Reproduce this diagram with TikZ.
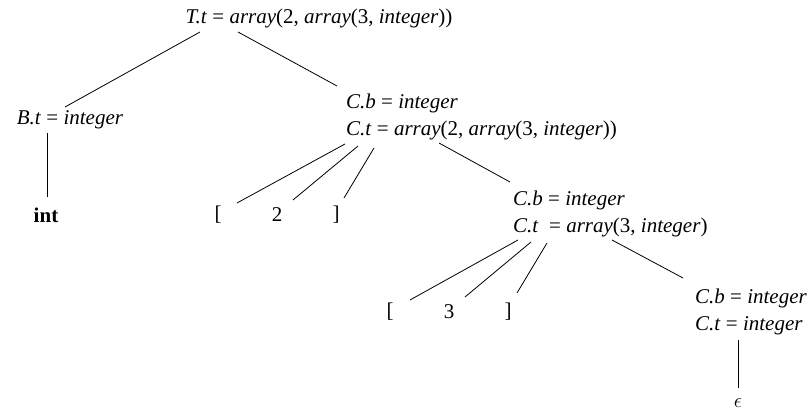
\documentclass[tikz,border=0pt]{standalone}
\usepackage{fontspec}
\setmainfont{Liberation Serif}
\usetikzlibrary{calc}

\begin{document}
\begin{tikzpicture}[
    x=1pt, y=1pt,
    attr/.style={inner sep=0pt, font=\fontsize{21}{27}\selectfont},
    multi/.style={attr, anchor=west, align=left},
    leaf/.style={attr},
    edge/.style={draw=black, line width=0.8pt}
]
\useasboundingbox (0,0) rectangle (812,410);

\node[attr] (T) at (319,392) {\textit{T.t} = \textit{array}(2, \textit{array}(3, \textit{integer}))};

\node[attr] (B) at (70,290) {\textit{B.t} = \textit{integer}};
\node[multi] (C1) at (346,293) {\textit{C.b} = \textit{integer}\\\textit{C.t} = \textit{array}(2, \textit{array}(3, \textit{integer}))};

\node[leaf] (int) at (46,195) {\textbf{int}};
\node[leaf] (lbA) at (218,195) {[};
\node[leaf] (two) at (277,195) {2};
\node[leaf] (rbA) at (336,195) {]};
\node[multi] (C2) at (513,196) {\textit{C.b} = \textit{integer}\\\textit{C.t}\ \ = \textit{array}(3, \textit{integer})};

\node[leaf] (lbB) at (390,98) {[};
\node[leaf] (three) at (449,98) {3};
\node[leaf] (rbB) at (508,98) {]};
\node[multi] (C3) at (695,98) {\textit{C.b} = \textit{integer}\\\textit{C.t} = \textit{integer}};

\node[leaf] (eps) at (738,7) {$\epsilon$};

% top level
\draw[edge] ($(T)+(-119,-14)$) -- ($(B)+(-5,13)$);
\draw[edge] ($(T)+(-81,-14)$) -- ($(C1.west)+(-9,31)$);
\draw[edge] ($(B)+(-23,-13)$) -- ($(int)+(1,18)$);

% first C
\draw[edge] ($(C1.west)+(-1,-27)$) -- ($(lbA)+(19,12)$);
\draw[edge] ($(C1.west)+(12,-29)$) -- ($(two)+(16,15)$);
\draw[edge] ($(C1.west)+(28,-31)$) -- ($(rbA)+(8,17)$);
\draw[edge] ($(C1.west)+(93,-26)$) -- ($(C2.west)+(-3,32)$);

% second C
\draw[edge] ($(C2.west)+(5,-26)$) -- ($(lbB)+(20,12)$);
\draw[edge] ($(C2.west)+(18,-28)$) -- ($(three)+(16,15)$);
\draw[edge] ($(C2.west)+(34,-29)$) -- ($(rbB)+(9,19)$);
\draw[edge] ($(C2.west)+(99,-26)$) -- ($(C3.west)+(-12,34)$);

% last C
\draw[edge] ($(C3.west)+(43,-28)$) -- ($(eps)+(0,15)$);

\end{tikzpicture}
\end{document}
